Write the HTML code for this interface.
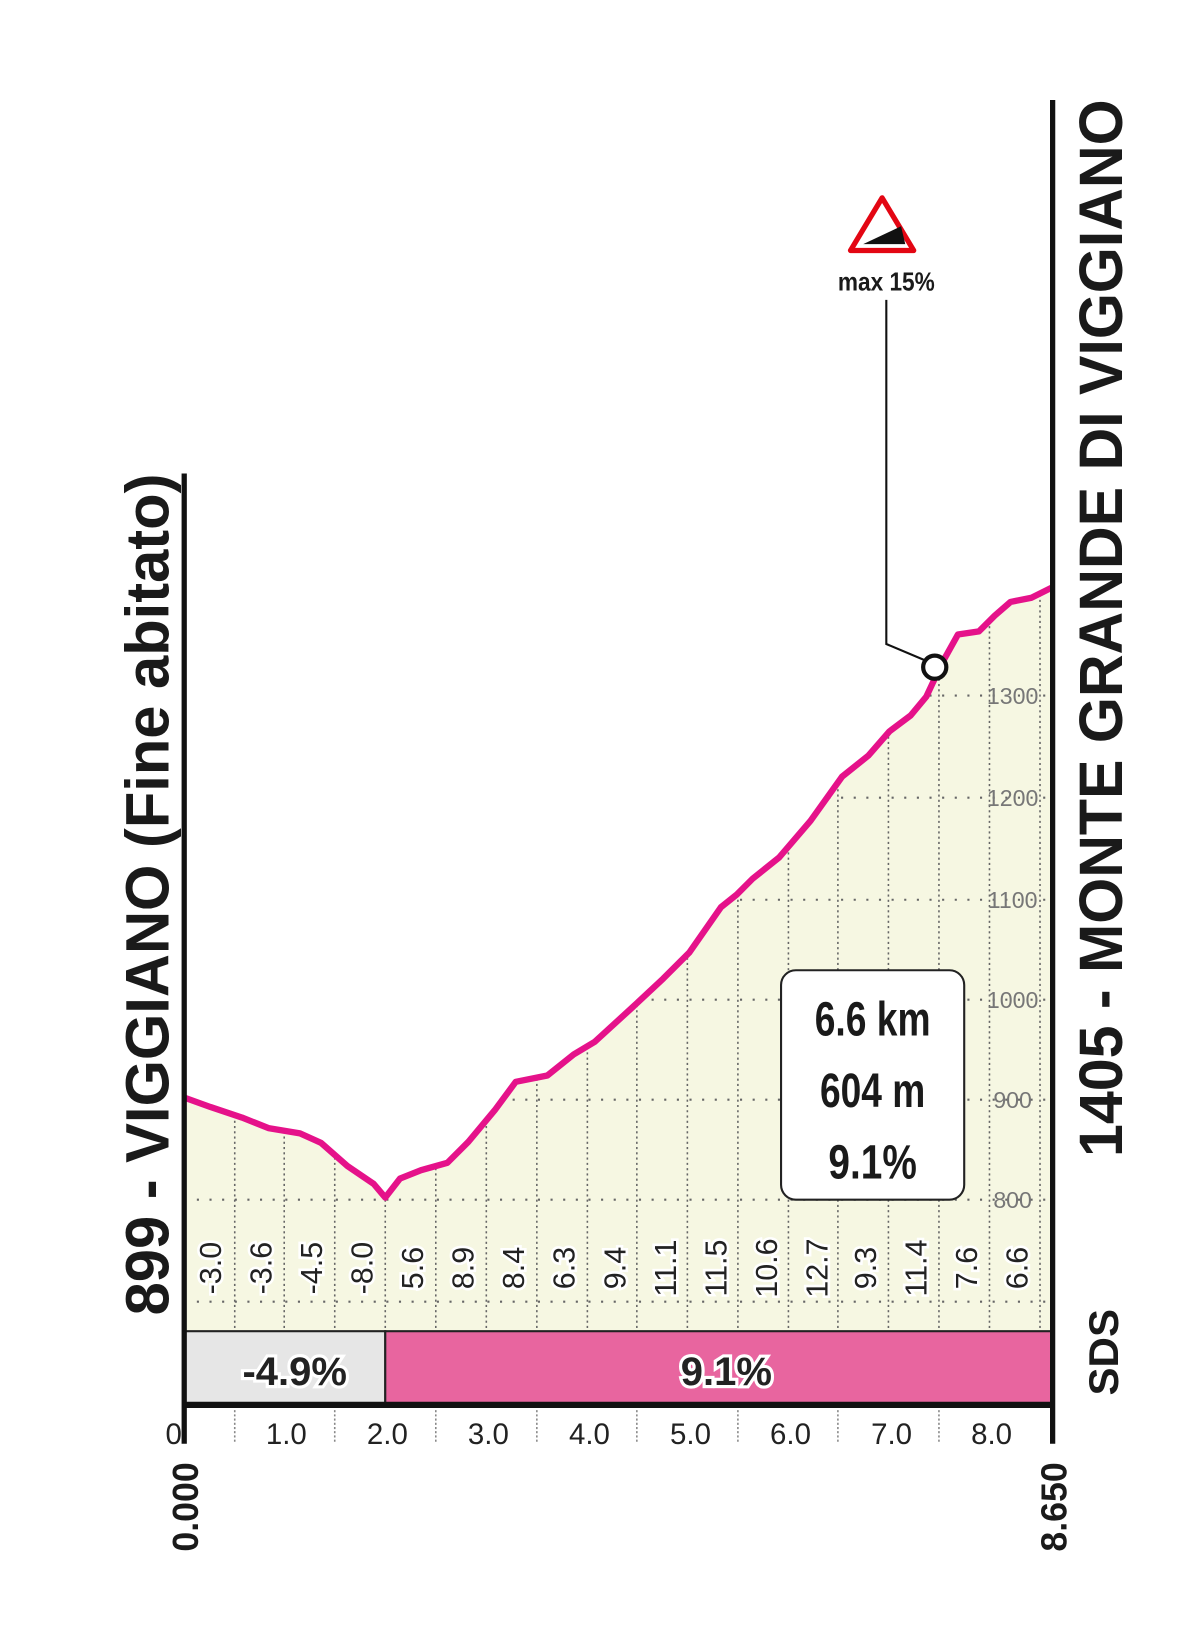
<!DOCTYPE html>
<html><head><meta charset="utf-8"><style>
html,body{margin:0;padding:0;background:#fff}
svg{display:block}
text{font-family:"Liberation Sans Narrow","Liberation Sans",sans-serif}
</style></head><body>
<svg width="1200" height="1649" viewBox="0 0 1140 1567" preserveAspectRatio="none" xmlns="http://www.w3.org/2000/svg">
<defs>
<clipPath id="fc"><path d="M175,1043 L200,1052 L230,1062 L255,1072 L285,1077 L305,1086 L330,1108 L355,1125 L366,1138 L380,1120 L400,1112 L425,1105 L445,1085 L470,1055 L490,1028 L520,1022 L545,1002 L565,990 L600,958 L630,930 L655,905 L685,862 L700,850 L715,835 L740,815 L770,780 L800,738 L825,718 L845,695 L865,680 L880,662 L895,630 L910,603 L930,600 L945,585 L960,572 L980,568 L1000,558 L1000,1265 L175,1265 Z"/></clipPath>
</defs>
<path d="M175,1043 L200,1052 L230,1062 L255,1072 L285,1077 L305,1086 L330,1108 L355,1125 L366,1138 L380,1120 L400,1112 L425,1105 L445,1085 L470,1055 L490,1028 L520,1022 L545,1002 L565,990 L600,958 L630,930 L655,905 L685,862 L700,850 L715,835 L740,815 L770,780 L800,738 L825,718 L845,695 L865,680 L880,662 L895,630 L910,603 L930,600 L945,585 L960,572 L980,568 L1000,558 L1000,1265 L175,1265 Z" fill="#f6f7e2"/>
<g clip-path="url(#fc)" stroke="#666" stroke-width="1.5" stroke-dasharray="2,3" fill="none">
<path d="M223,540V1265M270,540V1265M318,540V1265M366,540V1265M414,540V1265M462,540V1265M510,540V1265M558,540V1265M605,540V1265M653,540V1265M701,540V1265M749,540V1265M796,540V1265M844,540V1265M892,540V1265M940,540V1265M988,540V1265"/>
<path d="M175,1140H1000M175,1045H1000M175,950H1000M175,855H1000M175,758H1000M175,661H1000M175,1237H1000" stroke-dasharray="2,10" stroke-width="2"/>
</g>
<g font-size="22" fill="#777" text-anchor="middle">
<text x="962" y="1148">800</text><text x="962" y="1053">900</text><text x="962" y="958">1000</text><text x="962" y="863">1100</text><text x="962" y="766">1200</text><text x="962" y="669">1300</text>
</g>
<path d="M175,1043 L200,1052 L230,1062 L255,1072 L285,1077 L305,1086 L330,1108 L355,1125 L366,1138 L380,1120 L400,1112 L425,1105 L445,1085 L470,1055 L490,1028 L520,1022 L545,1002 L565,990 L600,958 L630,930 L655,905 L685,862 L700,850 L715,835 L740,815 L770,780 L800,738 L825,718 L845,695 L865,680 L880,662 L895,630 L910,603 L930,600 L945,585 L960,572 L980,568 L1000,558" fill="none" stroke="#e5128a" stroke-width="6" stroke-linejoin="round"/>
<g font-size="29" fill="#222" stroke="#fff" stroke-width="5" paint-order="stroke" text-anchor="middle">
<text transform="translate(210,1205) rotate(-90)">-3.0</text>
<text transform="translate(258,1205) rotate(-90)">-3.6</text>
<text transform="translate(306,1205) rotate(-90)">-4.5</text>
<text transform="translate(354,1205) rotate(-90)">-8.0</text>
<text transform="translate(402,1205) rotate(-90)">5.6</text>
<text transform="translate(450,1205) rotate(-90)">8.9</text>
<text transform="translate(498,1205) rotate(-90)">8.4</text>
<text transform="translate(546,1205) rotate(-90)">6.3</text>
<text transform="translate(594,1205) rotate(-90)">9.4</text>
<text transform="translate(642,1205) rotate(-90)">11.1</text>
<text transform="translate(690,1205) rotate(-90)">11.5</text>
<text transform="translate(738,1205) rotate(-90)">10.6</text>
<text transform="translate(786,1205) rotate(-90)">12.7</text>
<text transform="translate(832,1205) rotate(-90)">9.3</text>
<text transform="translate(880,1205) rotate(-90)">11.4</text>
<text transform="translate(928,1205) rotate(-90)">7.6</text>
<text transform="translate(976,1205) rotate(-90)">6.6</text>
</g>
<rect x="175" y="1265" width="191" height="70" fill="#e6e6e6" stroke="#222" stroke-width="2"/>
<rect x="366" y="1265" width="634" height="70" fill="#e8659f" stroke="#222" stroke-width="2"/>
<g font-size="38" font-weight="bold" fill="#222" stroke="#fff" stroke-width="6" paint-order="stroke" text-anchor="middle">
<text x="280" y="1316">-4.9%</text><text x="690" y="1316">9.1%</text>
</g>
<path d="M175,1335H1002" stroke="#111" stroke-width="6"/>
<path d="M175,450V1372M1000,95V1372" stroke="#111" stroke-width="5"/>
<g stroke="#888" stroke-width="1.5" stroke-dasharray="2,2">
<path d="M223,1340V1370M318,1340V1370M414,1340V1370M510,1340V1370M605,1340V1370M701,1340V1370M796,1340V1370M892,1340V1370"/>
</g>
<g font-size="28" fill="#222" text-anchor="middle">
<text x="165" y="1372">0</text><text x="272" y="1372">1.0</text><text x="368" y="1372">2.0</text><text x="464" y="1372">3.0</text><text x="560" y="1372">4.0</text><text x="656" y="1372">5.0</text><text x="751" y="1372">6.0</text><text x="847" y="1372">7.0</text><text x="942" y="1372">8.0</text>
</g>
<g font-size="34" font-weight="bold" fill="#1a1a1a" text-anchor="middle">
<text transform="translate(188,1432) rotate(-90)">0.000</text>
<text transform="translate(1013,1432) rotate(-90)">8.650</text>
</g>
<text transform="translate(160,850) rotate(-90)" font-size="58" font-weight="bold" fill="#1a1a1a" text-anchor="middle" textLength="800" lengthAdjust="spacingAndGlyphs">899 - VIGGIANO (Fine abitato)</text>
<text transform="translate(1066,597) rotate(-90)" font-size="58" font-weight="bold" fill="#1a1a1a" text-anchor="middle" textLength="1005" lengthAdjust="spacingAndGlyphs">1405 - MONTE GRANDE DI VIGGIANO</text>
<text transform="translate(1062,1285) rotate(-90)" font-size="40" font-weight="bold" fill="#1a1a1a" text-anchor="middle">SDS</text>
<rect x="742" y="922" width="174" height="218" rx="14" fill="#fff" stroke="#222" stroke-width="2"/>
<g font-size="46" font-weight="bold" fill="#1a1a1a" text-anchor="middle">
<text x="829" y="984" textLength="110" lengthAdjust="spacingAndGlyphs">6.6 km</text>
<text x="829" y="1052" textLength="100" lengthAdjust="spacingAndGlyphs">604 m</text>
<text x="829" y="1120" textLength="84" lengthAdjust="spacingAndGlyphs">9.1%</text>
</g>
<polyline points="880,628 842,612 842,285" fill="none" stroke="#111" stroke-width="2"/>
<circle cx="888" cy="634" r="11" fill="#fff" stroke="#111" stroke-width="4"/>
<path d="M838,188 L808,238 L868,238 Z" fill="#fff" stroke="#e30613" stroke-width="5" stroke-linejoin="round"/>
<path d="M820,232 L856,215 L860,232 Z" fill="#111"/>
<text x="842" y="276" font-size="25" font-weight="bold" fill="#1a1a1a" text-anchor="middle" textLength="92" lengthAdjust="spacingAndGlyphs">max 15%</text>
</svg>
</body></html>
